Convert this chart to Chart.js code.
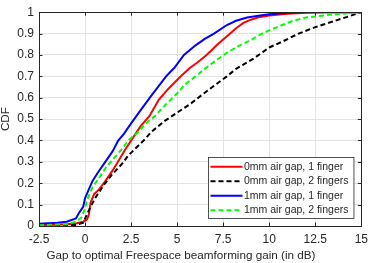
<!DOCTYPE html>
<html>
<head>
<meta charset="utf-8">
<script src="https://cdn.jsdelivr.net/npm/chart.js@4/dist/chart.umd.min.js"></script>
<style>
  body { margin: 0; background: #fff; }
  #chart { display: block; }
</style>
</head>
<body>
<canvas id="chart" width="374" height="263"></canvas>
<script>
// CDF of the gap to the optimal freespace beamforming gain

const seriesLabels = [
    '0mm air gap, 1 finger',
    '0mm air gap, 2 fingers',
    '1mm air gap, 1 finger',
    '1mm air gap, 2 fingers'
];

const xTitle = 'Gap to optimal Freespace beamforming gain (in dB)';
const yTitle = 'CDF';

const xTicks = [-2.5, 0, 2.5, 5, 7.5, 10, 12.5, 15];
const yTicks = [0, 0.1, 0.2, 0.3, 0.4, 0.5, 0.6, 0.7, 0.8, 0.9, 1];

// 0mm air gap, 1 finger
const gap0mm1fX = [-2.5, -1.5, -1, -0.5, -0.1, 0.1, 0.2, 0.3, 0.5, 0.75, 1.1, 1.5, 2.2, 3, 3.5, 4, 4.5, 5.2, 5.7, 6.1, 6.6, 7.2, 7.8, 8.2, 8.6, 9, 9.5, 10, 11, 12, 13, 15];
const gap0mm1fCdf = [0.005, 0.006, 0.008, 0.012, 0.02, 0.03, 0.05, 0.11, 0.15, 0.17, 0.21, 0.26, 0.36, 0.465, 0.515, 0.59, 0.64, 0.70, 0.74, 0.765, 0.80, 0.85, 0.895, 0.925, 0.95, 0.965, 0.978, 0.985, 0.993, 0.997, 1, 1];

// 0mm air gap, 2 fingers
const gap0mm2fX = [-2.5, -1, -0.5, -0.1, 0.05, 0.3, 0.57, 1, 1.46, 2, 2.35, 3.24, 3.6, 4.3, 5, 5.7, 6.45, 7.3, 7.7, 8.2, 9.1, 10, 10.7, 11.6, 12.5, 13.4, 14.3, 15];
const gap0mm2fCdf = [0.002, 0.003, 0.005, 0.015, 0.044, 0.09, 0.133, 0.19, 0.24, 0.29, 0.33, 0.405, 0.44, 0.49, 0.53, 0.57, 0.62, 0.675, 0.70, 0.735, 0.78, 0.835, 0.862, 0.90, 0.93, 0.955, 0.98, 1.0];

// 1mm air gap, 1 finger
const gap1mm1fX = [-2.5, -1.5, -1, -0.5, -0.3, -0.1, 0, 0.2, 0.4, 0.7, 1.1, 1.5, 1.8, 2.1, 2.5, 3, 3.6, 4.4, 4.85, 5.37, 6, 6.5, 7, 7.7, 8.2, 8.8, 9.5, 10, 11, 12, 15];
const gap1mm1fCdf = [0.01, 0.015, 0.02, 0.035, 0.065, 0.09, 0.13, 0.17, 0.21, 0.25, 0.30, 0.35, 0.40, 0.43, 0.48, 0.54, 0.61, 0.70, 0.74, 0.80, 0.845, 0.875, 0.90, 0.94, 0.96, 0.975, 0.985, 0.99, 0.997, 1, 1];

// 1mm air gap, 2 fingers
const gap1mm2fX = [-2.5, -1, -0.5, -0.2, 0, 0.1, 0.4, 0.8, 1.1, 1.5, 2, 2.4, 2.9, 3.3, 3.8, 4.4, 5, 5.4, 6, 6.5, 7.2, 7.7, 8.3, 9, 9.5, 10, 10.7, 11.3, 12, 12.5, 13.5, 14.3, 15];
const gap1mm2fCdf = [0.004, 0.008, 0.02, 0.04, 0.08, 0.12, 0.18, 0.23, 0.27, 0.31, 0.36, 0.405, 0.44, 0.48, 0.515, 0.57, 0.62, 0.66, 0.70, 0.735, 0.78, 0.81, 0.84, 0.87, 0.895, 0.915, 0.94, 0.96, 0.975, 0.98, 0.99, 0.995, 1];

const FONT = '"Liberation Sans", Arial, Helvetica, sans-serif';
const TEXT_COLOR = '#262626';
const AXIS_COLOR = '#262626';

function toPoints(xs, ys) {
    return xs.map((x, i) => ({ x: x, y: ys[i] }));
}

function makeDataset(label, xs, ys, color, dashed, order) {
    return {
        label: label,
        data: toPoints(xs, ys),
        borderColor: color,
        backgroundColor: color,
        borderWidth: 2,
        borderDash: dashed ? [5, 3] : [],
        pointRadius: 0,
        tension: 0,
        fill: false,
        showLine: true,
        order: order
    };
}

// box round the plot plus inward tick marks, like MATLAB's "box on"
const axesBoxPlugin = {
    id: 'axesBox',
    afterDatasetsDraw(chart) {
        const ctx = chart.ctx;
        const area = chart.chartArea;
        const xs = chart.scales.x;
        const ys = chart.scales.y;
        const tickLen = 3.5;
        ctx.save();
        ctx.strokeStyle = AXIS_COLOR;
        ctx.lineWidth = 1;
        ctx.beginPath();
        xTicks.forEach(v => {
            const px = Math.round(xs.getPixelForValue(v)) + 0.5;
            ctx.moveTo(px, area.bottom);
            ctx.lineTo(px, area.bottom - tickLen);
            ctx.moveTo(px, area.top);
            ctx.lineTo(px, area.top + tickLen);
        });
        yTicks.forEach(v => {
            const py = Math.round(ys.getPixelForValue(v)) + 0.5;
            ctx.moveTo(area.left, py);
            ctx.lineTo(area.left + tickLen, py);
            ctx.moveTo(area.right, py);
            ctx.lineTo(area.right - tickLen, py);
        });
        ctx.stroke();
        ctx.strokeRect(Math.round(area.left) + 0.5, Math.round(area.top) + 0.5,
            Math.round(area.right - area.left), Math.round(area.bottom - area.top));

        // x label sits a bit left of the axes centre in the original figure
        ctx.fillStyle = TEXT_COLOR;
        ctx.font = '11.7px ' + FONT;
        ctx.textAlign = 'center';
        ctx.textBaseline = 'alphabetic';
        ctx.fillText(xTitle, 181, 259);
        ctx.restore();
    }
};

// legend inside the lower right corner of the axes
const innerLegendPlugin = {
    id: 'innerLegend',
    afterDraw(chart) {
        const ctx = chart.ctx;
        const area = chart.chartArea;
        const sets = chart.data.datasets;
        const rowH = 14.5;
        const sampleW = 32;
        ctx.save();
        ctx.font = '10.5px ' + FONT;
        const textW = Math.max(...sets.map(d => ctx.measureText(d.label).width));
        const boxW = 2 + sampleW + 2 + textW + 5;
        const boxH = rowH * sets.length + 3;
        const right = area.right - 8;
        const bottom = area.bottom - 8;
        const left = Math.round(right - boxW) + 0.5;
        const top = Math.round(bottom - boxH) + 0.5;
        ctx.fillStyle = '#fff';
        ctx.fillRect(left, top, boxW, boxH);
        ctx.strokeStyle = AXIS_COLOR;
        ctx.lineWidth = 0.8;
        ctx.strokeRect(left, top, boxW, boxH);
        sets.forEach((d, i) => {
            const cy = top + 1.5 + rowH * i + rowH / 2 + 0.5;
            ctx.strokeStyle = d.borderColor;
            ctx.lineWidth = 2;
            ctx.setLineDash(d.borderDash);
            ctx.beginPath();
            ctx.moveTo(left + 2, cy);
            ctx.lineTo(left + 2 + sampleW, cy);
            ctx.stroke();
            ctx.setLineDash([]);
            ctx.fillStyle = TEXT_COLOR;
            ctx.textBaseline = 'middle';
            ctx.textAlign = 'left';
            ctx.fillText(d.label, left + 2 + sampleW + 1.5, cy);
        });
        ctx.restore();
    }
};

function buildChart() {
    const ctx = document.getElementById('chart');
    new Chart(ctx, {
        type: 'scatter',
        data: {
            datasets: [
                makeDataset(seriesLabels[0], gap0mm1fX, gap0mm1fCdf, '#ff0000', false, 3),
                makeDataset(seriesLabels[1], gap0mm2fX, gap0mm2fCdf, '#000000', true, 2),
                makeDataset(seriesLabels[2], gap1mm1fX, gap1mm1fCdf, '#0000ff', false, 1),
                makeDataset(seriesLabels[3], gap1mm2fX, gap1mm2fCdf, '#00ff00', true, 0)
            ]
        },
        options: {
            responsive: false,
            animation: false,
            layout: { padding: { top: 4, right: 7, left: 0, bottom: 0 } },
            plugins: {
                legend: { display: false },
                tooltip: { enabled: false }
            },
            scales: {
                x: {
                    type: 'linear',
                    min: -2.5,
                    max: 15,
                    afterBuildTicks: axis => { axis.ticks = xTicks.map(v => ({ value: v })); },
                    afterFit: axis => { axis.height = 37; },
                    ticks: {
                        color: TEXT_COLOR,
                        font: { family: FONT, size: 12 },
                        padding: 6,
                        maxRotation: 0,
                        callback: v => String(v)
                    },
                    grid: { color: '#e3e3e3', drawTicks: false },
                    border: { display: false }
                },
                y: {
                    type: 'linear',
                    min: 0,
                    max: 1,
                    afterBuildTicks: axis => { axis.ticks = yTicks.map(v => ({ value: v })); },
                    afterFit: axis => { axis.width = 39; },
                    ticks: {
                        color: TEXT_COLOR,
                        font: { family: FONT, size: 12 },
                        padding: 5,
                        callback: v => String(v)
                    },
                    grid: { color: '#e3e3e3', drawTicks: false },
                    border: { display: false },
                    title: {
                        display: true,
                        text: yTitle,
                        color: TEXT_COLOR,
                        font: { family: FONT, size: 11.7, lineHeight: 1 },
                        padding: { top: 0, bottom: 0 }
                    }
                }
            }
        },
        plugins: [axesBoxPlugin, innerLegendPlugin]
    });
}

document.addEventListener('DOMContentLoaded', buildChart);
</script>
</body>
</html>
